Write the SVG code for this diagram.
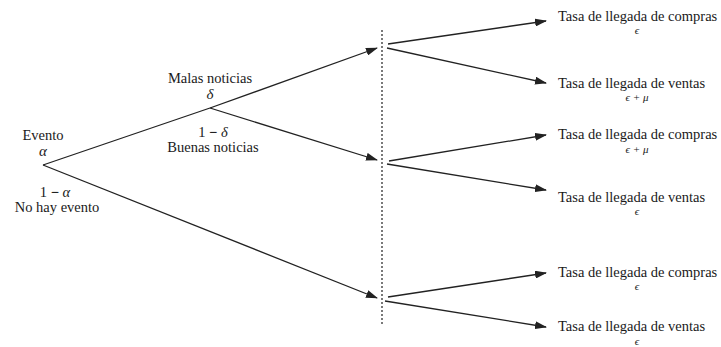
<svg xmlns="http://www.w3.org/2000/svg" width="721" height="347" viewBox="0 0 721 347">
<defs>
<marker id="ah" markerWidth="12" markerHeight="8" refX="11" refY="4" orient="auto" markerUnits="userSpaceOnUse">
<path d="M0,0 L12,4 L0,8 Z" fill="#222"/>
</marker>
<style>
.t{font-family:"Liberation Serif","Times New Roman",serif;font-size:14.5px;fill:#1a1a1a}
.m{font-family:"Liberation Serif","Times New Roman",serif;font-style:italic;font-size:11px;fill:#1a1a1a}
.g{font-family:"Liberation Serif","Times New Roman",serif;font-style:italic;font-size:15px;fill:#1a1a1a}
.l{stroke:#222;stroke-width:1.3;fill:none}
.a{stroke:#222;stroke-width:1.3;fill:none;marker-end:url(#ah)}
.d{stroke:#333;stroke-width:1.3;stroke-dasharray:2,2;fill:none}
</style>
</defs>
<rect width="721" height="347" fill="#fff"/>
<g id="connectors">
<line class="l" x1="43" y1="165" x2="210" y2="108"/>
<line class="a" x1="210" y1="108" x2="377" y2="48"/>
<line class="a" x1="210" y1="108" x2="377" y2="160"/>
<line class="a" x1="43" y1="165" x2="377" y2="298"/>
<line class="d" x1="382" y1="30" x2="382" y2="326"/>
<line class="a" x1="388" y1="44" x2="546" y2="21"/>
<line class="a" x1="387" y1="48" x2="546" y2="83"/>
<line class="a" x1="389" y1="161" x2="546" y2="135"/>
<line class="a" x1="387" y1="164" x2="546" y2="190"/>
<line class="a" x1="388" y1="297" x2="546" y2="273"/>
<line class="a" x1="385" y1="301" x2="546" y2="327"/>
</g>
<g id="evento">
<text class="t" x="43" y="140" text-anchor="middle">Evento</text>
<text class="g" x="43" y="156" text-anchor="middle">α</text>
</g>
<g id="no-evento">
<text class="t" x="55" y="197" text-anchor="middle">1 <tspan font-weight="bold">−</tspan> <tspan font-style="italic">α</tspan></text>
<text class="t" x="57" y="212" text-anchor="middle">No hay evento</text>
</g>
<g id="malas">
<text class="t" x="210" y="83" text-anchor="middle">Malas noticias</text>
<text class="g" x="210" y="99" text-anchor="middle">δ</text>
</g>
<g id="buenas">
<text class="t" x="213" y="137" text-anchor="middle">1 <tspan font-weight="bold">−</tspan> <tspan font-style="italic">δ</tspan></text>
<text class="t" x="213" y="152" text-anchor="middle">Buenas noticias</text>
</g>
<g id="r1">
<text class="t" x="558" y="21">Tasa de llegada de compras</text>
<text class="m" x="637" y="34" text-anchor="middle">ϵ</text>
</g>
<g id="r2">
<text class="t" x="558" y="88">Tasa de llegada de ventas</text>
<text class="m" x="637" y="101" text-anchor="middle">ϵ + μ</text>
</g>
<g id="r3">
<text class="t" x="558" y="139">Tasa de llegada de compras</text>
<text class="m" x="637" y="153" text-anchor="middle">ϵ + μ</text>
</g>
<g id="r4">
<text class="t" x="558" y="202">Tasa de llegada de ventas</text>
<text class="m" x="637" y="215" text-anchor="middle">ϵ</text>
</g>
<g id="r5">
<text class="t" x="558" y="277">Tasa de llegada de compras</text>
<text class="m" x="637" y="290" text-anchor="middle">ϵ</text>
</g>
<g id="r6">
<text class="t" x="558" y="331">Tasa de llegada de ventas</text>
<text class="m" x="637" y="345" text-anchor="middle">ϵ</text>
</g>
</svg>
